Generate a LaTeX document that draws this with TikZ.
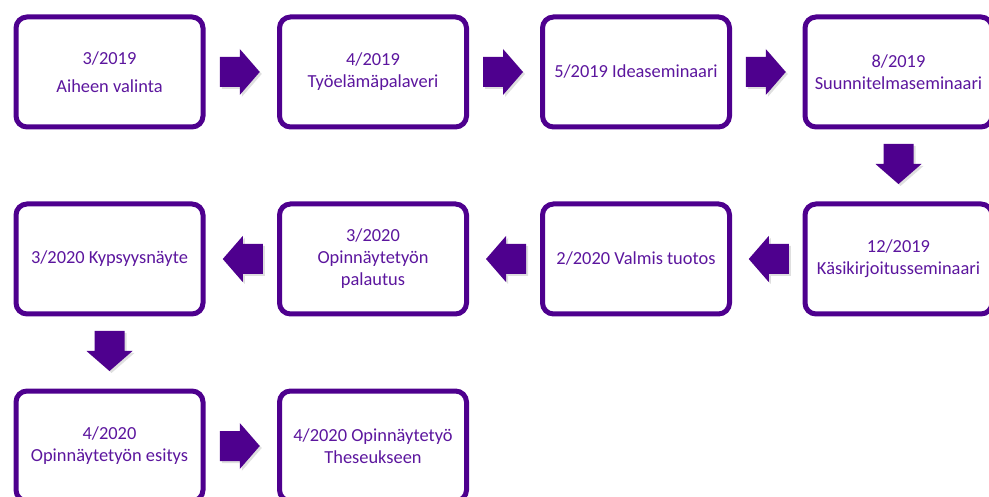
\documentclass[tikz,border=0pt]{standalone}
\usepackage{fontspec}
\setmainfont{Carlito}
\usetikzlibrary{shadows,calc}
\definecolor{boxc}{RGB}{78,0,142}
\definecolor{txtc}{RGB}{92,22,158}
\begin{document}
\begin{tikzpicture}[x=1pt,y=-1pt,
  stepbox/.style={draw=boxc, line width=5pt, rounded corners=11pt, minimum width=187pt, minimum height=110pt,
    align=center, text=txtc, font=\fontsize{18.4}{22}\selectfont, inner sep=2pt, fill=white},
  blockarrow/.style={fill=boxc, draw=none,
    drop shadow={opacity=0.25, shadow xshift=2pt, shadow yshift=-2pt}},
]
\useasboundingbox (0,0) rectangle (989,497);
\clip (0,0) rectangle (989,497);
% row 1
\node[stepbox] (b1) at (109.5,72) {3/2019\\[6pt]Aiheen valinta};
\node[stepbox] (b2) at (373,72) {4/2019\\Työelämäpalaveri};
\node[stepbox] (b3) at (636,72) {5/2019 Ideaseminaari};
\node[stepbox] (b4) at (898.5,72) {8/2019\\Suunnitelmaseminaari};
% row 2
\node[stepbox] (b5) at (898.5,259) {12/2019\\Käsikirjoitusseminaari};
\node[stepbox] (b6) at (636,259) {2/2020 Valmis tuotos};
\node[stepbox] (b7) at (373,259) {3/2020\\Opinnäytetyön\\palautus};
\node[stepbox] (b8) at (109.5,259) {3/2020 Kypsyysnäyte};
% row 3
\node[stepbox] (b9) at (109.5,446) {4/2020\\Opinnäytetyön esitys};
\node[stepbox] (b10) at (373,446) {4/2020 Opinnäytetyö\\Theseukseen};
% arrow positions
\coordinate (a1) at ($(b1.east)!0.5!(b2.west)+(-1.5,0)$);
\coordinate (a2) at ($(b2.east)!0.5!(b3.west)+(-1.5,0)$);
\coordinate (a3) at ($(b3.east)!0.5!(b4.west)+(-1.5,0)$);
\coordinate (a4) at ($(b4.south)!0.5!(b5.north)+(0,-1.5)$);
\coordinate (a5) at ($(b5.west)!0.5!(b6.east)+(1.5,0)$);
\coordinate (a6) at ($(b6.west)!0.5!(b7.east)+(1.5,0)$);
\coordinate (a7) at ($(b7.west)!0.5!(b8.east)+(1.5,0)$);
\coordinate (a8) at ($(b8.south)!0.5!(b9.north)+(0,-1.5)$);
\coordinate (a9) at ($(b9.east)!0.5!(b10.west)+(-1.5,0)$);
\foreach \p/\r in {a1/0,a2/0,a3/0,a4/-90,a5/180,a6/180,a7/180,a8/-90,a9/0}{
  \fill[blockarrow, shift={(\p)}, rotate=\r]
    (-20,-15) -- (0,-15) -- (0,-23) -- (20,0) -- (0,23) -- (0,15) -- (-20,15) -- cycle;
}
\end{tikzpicture}
\end{document}
